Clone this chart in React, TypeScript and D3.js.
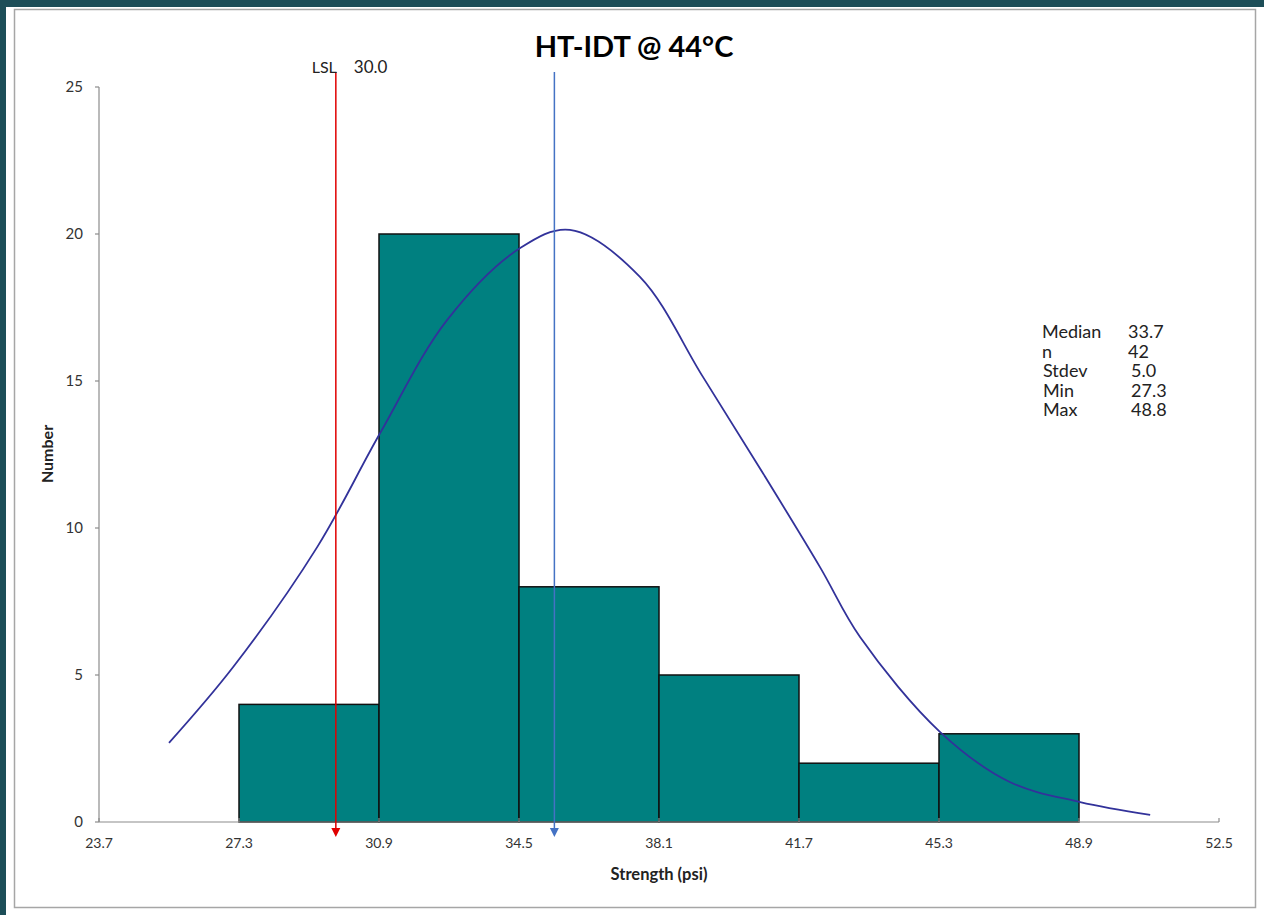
import React from "react";
import * as d3 from "d3";

// histogram bins (lower edge of each bin, width = 3.6)
const binEdges = [27.3, 30.9, 34.5, 38.1, 41.7, 45.3, 48.9];
const binCounts = [4, 20, 8, 5, 2, 3];

const xTicks = [23.7, 27.3, 30.9, 34.5, 38.1, 41.7, 45.3, 48.9, 52.5];
const yTicks = [0, 5, 10, 15, 20, 25];

// fitted curve
const curveX = [25.5, 27.15, 29.31, 30.93, 32.65, 34.53, 35.81, 37.61, 39.23, 40.77, 42.24, 43.27, 45.33, 47.12, 48.93, 50.73];
const curveY = [2.69, 5.27, 9.35, 13.23, 17.07, 19.52, 20.14, 18.54, 15.14, 11.87, 8.67, 6.29, 3.06, 1.36, 0.68, 0.24];

// marker lines
const lslLabel = "30.0";
const lslPos = 29.79;
const centerPos = 35.41;

const statLabels = ["Median", "n", "Stdev", "Min", "Max"];
const statValues = ["33.7", "42", "5.0", "27.3", "48.8"];

const W = 1264;
const H = 915;
const font = "Lato, 'Open Sans', sans-serif";

export default function App() {
  const x = d3.scaleLinear().domain([23.7, 52.5]).range([99, 1219]);
  const y = d3.scaleLinear().domain([0, 25]).range([822, 87]);

  const line = d3
    .line<number>()
    .x((d, i) => x(curveX[i]))
    .y((d) => y(d))
    .curve(d3.curveCatmullRom.alpha(0.5));

  const markerTop = 72;
  const markerBottom = 837;

  const arrow = (px: number) =>
    `M${px - 4.5},${markerBottom - 9} L${px + 4.5},${markerBottom - 9} L${px},${markerBottom} Z`;

  return (
    <svg
      width={W}
      height={H}
      style={{ position: "absolute", left: 0, top: 0, display: "block" }}
    >
      <rect x={0} y={0} width={W} height={H} fill="#ffffff" />
      {/* dark strips round the screenshot */}
      <rect x={0} y={0} width={W} height={7} fill="#1d4e58" />
      <rect x={0} y={0} width={6} height={H} fill="#1d4e58" />
      <rect x={14.5} y={9.5} width={1241} height={898} fill="#ffffff" stroke="#a6a6a6" strokeWidth={1.5} />

      <text x={634} y={57} textAnchor="middle" fontFamily={font} fontWeight="bold" fontSize={29} fill="#000">
        HT-IDT @ 44°C
      </text>

      {/* bars */}
      <g>
        {binCounts.map((c, i) => (
          <rect
            key={i}
            x={x(binEdges[i])}
            y={y(c)}
            width={x(binEdges[i + 1]) - x(binEdges[i])}
            height={y(0) - y(c)}
            fill="#008080"
            stroke="#111"
            strokeWidth={1.5}
          />
        ))}
      </g>

      {/* y axis */}
      <g>
        <line x1={x(23.7)} x2={x(23.7)} y1={y(25)} y2={y(0)} stroke="#8c8c8c" strokeWidth={1.2} />
        {yTicks.map((t) => (
          <g key={t}>
            <line x1={x(23.7) - 4} x2={x(23.7)} y1={y(t)} y2={y(t)} stroke="#8c8c8c" strokeWidth={1.2} />
            <text x={83} y={y(t)} dy="0.35em" textAnchor="end" fontFamily={font} fontSize={15} fill="#333">
              {t}
            </text>
          </g>
        ))}
      </g>

      {/* x axis */}
      <g>
        <line x1={x(23.7)} x2={x(52.5)} y1={y(0)} y2={y(0)} stroke="#8c8c8c" strokeWidth={1.2} />
        {xTicks.map((t) => (
          <g key={t}>
            <line x1={x(t)} x2={x(t)} y1={y(0) - 4} y2={y(0)} stroke="#8c8c8c" strokeWidth={1.2} />
            <text x={x(t)} y={y(0) + 21} dy="0.35em" textAnchor="middle" fontFamily={font} fontSize={14} fill="#333">
              {t.toFixed(1)}
            </text>
          </g>
        ))}
      </g>

      {/* fitted curve */}
      <path d={line(curveY) || ""} fill="none" stroke="#32329a" strokeWidth={1.8} />

      {/* LSL */}
      <line x1={x(lslPos)} x2={x(lslPos)} y1={markerTop} y2={markerBottom - 6} stroke="#e00000" strokeWidth={1.5} />
      <path d={arrow(x(lslPos))} fill="#e00000" />
      <text x={x(lslPos) + 1} y={73} textAnchor="end" fontFamily={font} fontSize={16} fill="#222">
        LSL
      </text>
      <text x={x(lslPos) + 18} y={73} fontFamily={font} fontSize={17} fill="#222">
        {lslLabel}
      </text>

      {/* centre line */}
      <line x1={x(centerPos)} x2={x(centerPos)} y1={markerTop} y2={markerBottom - 6} stroke="#4472c4" strokeWidth={1.5} />
      <path d={arrow(x(centerPos))} fill="#4472c4" />

      {/* statistics */}
      <g fontFamily={font} fontSize={18} fill="#222">
        {statLabels.map((s, i) => (
          <text key={s} x={i < 2 ? 1042 : 1043} y={338 + i * 19.5}>
            {s}
          </text>
        ))}
        {statValues.map((v, i) => (
          <text key={i} x={i < 2 ? 1128 : 1131} y={338 + i * 19.5}>
            {v}
          </text>
        ))}
      </g>

      <text
        transform={`translate(47,454) rotate(-90)`}
        textAnchor="middle"
        dy="0.35em"
        fontFamily={font}
        fontWeight="bold"
        fontSize={16}
        fill="#222"
      >
        Number
      </text>
      <text x={659} y={880} textAnchor="middle" fontFamily={font} fontWeight="bold" fontSize={16.5} fill="#222">
        Strength (psi)
      </text>
    </svg>
  );
}
